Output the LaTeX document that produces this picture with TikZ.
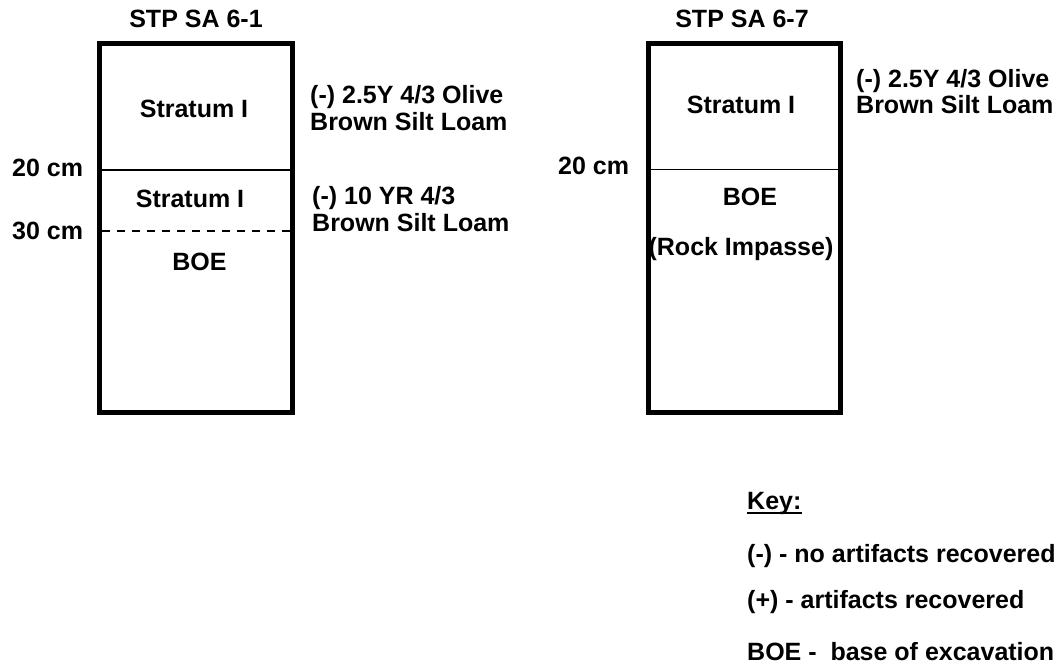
\documentclass[tikz,border=0pt]{standalone}
\usepackage{fontspec}
\setmainfont{Liberation Sans}
\begin{document}
\begin{tikzpicture}[x=1pt,y=-1pt,
  lbl/.style={font=\fontsize{25}{28}\selectfont\bfseries, inner sep=0pt},
  pit/.style={line width=4.5pt},
  layer/.style={line width=1.8pt},
  contact/.style={line width=1.6pt, dash pattern=on 8pt off 7pt}]
\useasboundingbox (0,0) rectangle (1062,665);

% ---- STP SA 6-1 ----
\node[lbl, anchor=base] (t1) at (196,27) {STP SA 6-1};
\coordinate (a1) at (99.5,43.5);
\coordinate (b1) at (292.5,412.5);
\coordinate (l20a) at (99.5,170);
\coordinate (r20a) at (292.5,170);
\coordinate (l30a) at (102,231);
\coordinate (r30a) at (290,231);
\draw[layer] (l20a) -- (r20a);
\draw[contact] (l30a) -- (r30a);
\draw[pit] (a1) rectangle (b1);
\node[lbl, anchor=base] (s1a) at (194,117) {Stratum I};
\node[lbl, anchor=base] (s1b) at (190,207) {Stratum I};
\node[lbl, anchor=base] (boe1) at (199.5,270) {BOE};
\node[lbl, anchor=base west] (d20a) at (12,176) {20 cm};
\node[lbl, anchor=base west] (d30a) at (12,239) {30 cm};
\node[lbl, anchor=base west] (c1a) at (310,103) {(-) 2.5Y 4/3 Olive};
\node[lbl, anchor=base west] (c1b) at (310,130) {Brown Silt Loam};
\node[lbl, anchor=base west] (c2a) at (312,204) {(-) 10 YR 4/3};
\node[lbl, anchor=base west] (c2b) at (312,231) {Brown Silt Loam};

% ---- STP SA 6-7 ----
\node[lbl, anchor=base] (t2) at (742,27) {STP SA 6-7};
\coordinate (a2) at (648.5,43.5);
\coordinate (b2) at (840.5,412.5);
\coordinate (l20b) at (648.5,169.5);
\coordinate (r20b) at (843,169.5);
\draw[layer] (l20b) -- (r20b);
\draw[pit] (a2) rectangle (b2);
\node[lbl, anchor=base] (s2a) at (741,113) {Stratum I};
\node[lbl, anchor=base] (boe2) at (750,205) {BOE};
\node[lbl, anchor=base] (rock) at (741,255) {(Rock Impasse)};
\node[lbl, anchor=base west] (d20b) at (558,174) {20 cm};
\node[lbl, anchor=base west] (c3a) at (856,87) {(-) 2.5Y 4/3 Olive};
\node[lbl, anchor=base west] (c3b) at (856,113) {Brown Silt Loam};

% ---- key ----
\node[lbl, anchor=base west] (key) at (747,509) {Key:};
\draw[line width=1.6pt] ([yshift=-4pt]key.base west) -- ([yshift=-4pt]key.base east);
\node[lbl, anchor=base west] (k1) at (747,562) {(-) - no artifacts recovered};
\node[lbl, anchor=base west] (k2) at (747,608) {(+) - artifacts recovered};
\node[lbl, anchor=base west] (k3) at (747,660) {BOE -\ \ base of excavation};
\end{tikzpicture}
\end{document}
